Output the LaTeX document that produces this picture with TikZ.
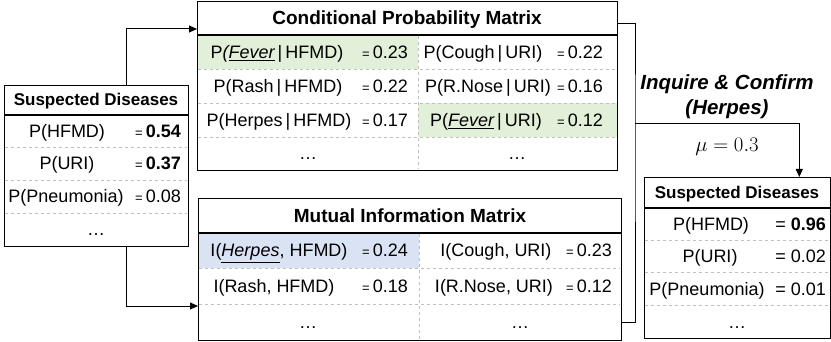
\documentclass[tikz,border=0pt]{standalone}
\usepackage{fontspec}
\setmainfont{Liberation Sans}
\usetikzlibrary{arrows.meta, calc}
\definecolor{cellgreen}{HTML}{E2EFD9}
\definecolor{cellblue}{HTML}{DAE3F3}
\definecolor{sepgray}{HTML}{BFBFBF}
\newcommand{\smeq}{{\fontsize{13}{13}\selectfont=}\,}
\newcommand{\given}{\,|\,}

\begin{document}
\begin{tikzpicture}[x=1pt, y=-1pt, >={Triangle[length=8pt, width=7pt]},
    box/.style={draw, line width=1.3pt, inner sep=0pt, anchor=north west},
    head/.style={font=\bfseries\fontsize{19}{19}\selectfont, anchor=base, inner sep=0pt},
    sdhead/.style={font=\bfseries\fontsize{17}{17}\selectfont, anchor=base, inner sep=0pt},
    lbl/.style={font=\fontsize{18}{18}\selectfont, anchor=base, inner sep=0pt},
    val/.style={font=\fontsize{18}{18}\selectfont, anchor=base east, inner sep=0pt},
    step-text/.style={font=\bfseries\itshape\fontsize{20.5}{20.5}\selectfont, anchor=base, inner sep=0pt},
    sep/.style={sepgray, dashed, line width=0.5pt},
    conn/.style={line width=1pt}]
    \useasboundingbox (0,0) rectangle (831,342);

    % highlighted cells
    \fill[cellgreen] (197,35) rectangle (418,69);
    \fill[cellgreen] (418,103) rectangle (617,137);
    \fill[cellblue] (198,233) rectangle (419,268);

    % boxes
    \node[box, minimum width=184pt, minimum height=161pt] (sdl) at (4,85) {};
    \node[box, minimum width=420pt, minimum height=169pt] (cpm) at (197,1) {};
    \node[box, minimum width=423pt, minimum height=142pt] (mim) at (198,198) {};
    \node[box, minimum width=186pt, minimum height=161pt] (sdr) at (644,177) {};

    % row separators
    \draw[line width=1.3pt] (4,115) -- (188,115);
    \draw[line width=1.3pt] (197,35) -- (617,35);
    \draw[line width=1.3pt] (198,233) -- (621,233);
    \draw[line width=1.3pt] (644,208) -- (830,208);
    \foreach \y in {147,180,213} \draw[sep] (5,\y) -- (187,\y);
    \foreach \y in {69,103,137} \draw[sep] (198,\y) -- (616,\y);
    \foreach \y in {268,304} \draw[sep] (199,\y) -- (620,\y);
    \foreach \y in {240,272,305} \draw[sep] (645,\y) -- (829,\y);
    \draw[sep] (418,36) -- (418,169);
    \draw[sep] (419,234) -- (419,339);

    % suspected diseases (before)
    \node[sdhead] (sdl-h) at (96,106) {Suspected Diseases};
    \node[lbl] (sdl-l1) at (67,137.5) {P(HFMD)};
    \node[val] (sdl-v1) at (181,137.5) {\smeq\textbf{0.54}};
    \node[lbl] (sdl-l2) at (67,170) {P(URI)};
    \node[val] (sdl-v2) at (181,170) {\smeq\textbf{0.37}};
    \node[lbl] (sdl-l3) at (66,203) {P(Pneumonia)};
    \node[val] (sdl-v3) at (181,203) {\smeq0.08};
    \node[lbl] (sdl-d) at (96,236) {\dots};

    % conditional probability matrix
    \node[head] (cpm-h) at (407,25) {Conditional Probability Matrix};
    \node[lbl] (cpm-l1) at (277,58.5) {P\textit{(\underline{Fever}}\given HFMD)};
    \node[val] (cpm-v1) at (408,58.5) {\smeq0.23};
    \node[lbl] (cpm-l2) at (278,92.5) {P(Rash\given HFMD)};
    \node[val] (cpm-v2) at (408,92.5) {\smeq0.22};
    \node[lbl] (cpm-l3) at (279,126.5) {P(Herpes\given HFMD)};
    \node[val] (cpm-v3) at (408,126.5) {\smeq0.17};
    \node[lbl] (cpm-d1) at (308,160) {\dots};
    \node[lbl] (cpm-r1) at (483,58.5) {P(Cough\given URI)};
    \node[val] (cpm-w1) at (603,58.5) {\smeq0.22};
    \node[lbl] (cpm-r2) at (488,92.5) {P(R.Nose\given URI)};
    \node[val] (cpm-w2) at (603,92.5) {\smeq0.16};
    \node[lbl] (cpm-r3) at (486,126.5) {P(\textit{\underline{Fever}}\given URI)};
    \node[val] (cpm-w3) at (603,126.5) {\smeq0.12};
    \node[lbl] (cpm-d2) at (517,160) {\dots};

    % mutual information matrix
    \node[head] (mim-h) at (410,222.5) {Mutual Information Matrix};
    \node[lbl] (mim-l1) at (279,257) {I(\textit{\underline{Herpes}}, HFMD)};
    \node[val] (mim-v1) at (408,257) {\smeq0.24};
    \node[lbl] (mim-l2) at (274,292.5) {I(Rash, HFMD)};
    \node[val] (mim-v2) at (408,292.5) {\smeq0.18};
    \node[lbl] (mim-d1) at (308,328.5) {\dots};
    \node[lbl] (mim-r1) at (496,257) {I(Cough, URI)};
    \node[val] (mim-w1) at (612,257) {\smeq0.23};
    \node[lbl] (mim-r2) at (494,292.5) {I(R.Nose, URI)};
    \node[val] (mim-w2) at (612,292.5) {\smeq0.12};
    \node[lbl] (mim-d2) at (520,328.5) {\dots};

    % suspected diseases (after)
    \node[sdhead] (sdr-h) at (737,199) {Suspected Diseases};
    \node[lbl] (sdr-l1) at (711,230.5) {P(HFMD)};
    \node[val] (sdr-v1) at (826,230.5) {= \textbf{0.96}};
    \node[lbl] (sdr-l2) at (710,262.5) {P(URI)};
    \node[val] (sdr-v2) at (826,262.5) {= 0.02};
    \node[lbl] (sdr-l3) at (707,295) {P(Pneumonia)};
    \node[val] (sdr-v3) at (826,295) {= 0.01};
    \node[lbl] (sdr-d) at (737,328) {\dots};

    % inquiry step
    \node[step-text] (ask) at (727,90) {Inquire \& Confirm};
    \node[step-text] (ask-d) at (727,115) {(Herpes)};
    \node[font=\huge, anchor=base, inner sep=0pt] (mu) at (727,152) {$\mu = 0.3$};

    % connectors
    \coordinate (jn) at (635,124);
    \draw[conn, ->] ($(sdl.north west)+(122,0)$) |- ($(cpm.north west)+(0,28)$);
    \draw[conn, ->] ($(sdl.south west)+(122,0)$) |- ($(mim.north west)+(0,108)$);
    \draw[conn] ($(cpm.north east)+(0,23)$) -| (jn) |- ($(mim.north east)+(0,124)$);
    \draw[conn, ->] (jn) -| ($(sdr.north east)+(-32,0)$);
\end{tikzpicture}
\end{document}
